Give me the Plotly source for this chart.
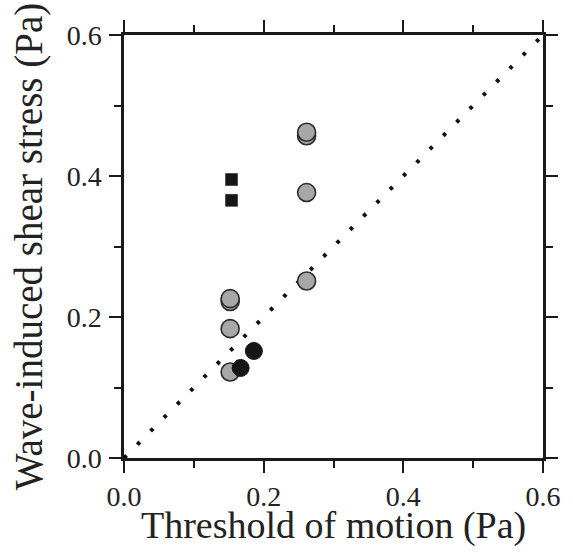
import plotly.graph_objects as go

# Threshold of motion (x) vs wave-induced shear stress (y), in Pa
gray_x = [0.2615, 0.2615, 0.2615, 0.2615, 0.152, 0.152, 0.152, 0.152]
gray_y = [0.457, 0.462, 0.3765, 0.251, 0.222, 0.226, 0.1835, 0.122]

black_x = [0.167, 0.186]
black_y = [0.1277, 0.1518]

square_x = [0.154, 0.154]
square_y = [0.395, 0.3655]

# 1:1 reference line
line_x = [0.0, 0.6]
line_y = [0.0, 0.6]

tick_vals = [0.0, 0.2, 0.4, 0.6]
tick_text = ["0.0", "0.2", "0.4", "0.6"]

FONT = "Liberation Serif, Times New Roman, serif"

fig = go.Figure()

fig.add_trace(go.Scatter(
    x=line_x, y=line_y, mode="lines",
    line=dict(color="#111111", width=4, dash="3.6px,15.3px"),
    hoverinfo="skip", showlegend=False,
))

fig.add_trace(go.Scatter(
    x=gray_x, y=gray_y, mode="markers",
    marker=dict(symbol="circle", size=18, color="#a7a7a7",
                line=dict(color="#2a2a2a", width=1.6)),
    showlegend=False,
))

fig.add_trace(go.Scatter(
    x=black_x, y=black_y, mode="markers",
    marker=dict(symbol="circle", size=17, color="#161616",
                line=dict(color="#161616", width=1)),
    showlegend=False,
))

fig.add_trace(go.Scatter(
    x=square_x, y=square_y, mode="markers",
    marker=dict(symbol="square", size=12, color="#161616",
                line=dict(color="#161616", width=0.5)),
    showlegend=False,
))

axis_common = dict(
    range=[0, 0.6],
    tickvals=tick_vals,
    ticktext=tick_text,
    ticks="outside",
    ticklen=12,
    tickwidth=2,
    tickcolor="#1a1a1a",
    showline=True,
    linewidth=2.5,
    linecolor="#1a1a1a",
    mirror="allticks",
    showgrid=False,
    zeroline=False,
    tickfont=dict(family=FONT, size=28, color="#222222"),
    minor=dict(dtick=0.1, tick0=0.0, ticks="outside", ticklen=7,
               tickwidth=2, tickcolor="#1a1a1a", showgrid=False),
    fixedrange=True,
)

fig.update_xaxes(**axis_common, ticklabelstandoff=0)
fig.update_yaxes(
    **axis_common,
    ticklabelstandoff=2,
    title=dict(text="Wave-induced shear stress (Pa)",
               font=dict(family=FONT, size=39, color="#222222"),
               standoff=13),
)

# x-axis title placed as a paper annotation just under the tick labels
fig.add_annotation(
    text="Threshold of motion (Pa)",
    xref="paper", yref="paper", x=0.5, y=0,
    xanchor="center", yanchor="top", yshift=-44,
    showarrow=False,
    font=dict(family=FONT, size=38, color="#222222"),
)

fig.update_layout(
    width=573, height=556,
    margin=dict(l=124, r=26, t=35, b=98),
    paper_bgcolor="white",
    plot_bgcolor="white",
)

fig.write_html("out.html")
